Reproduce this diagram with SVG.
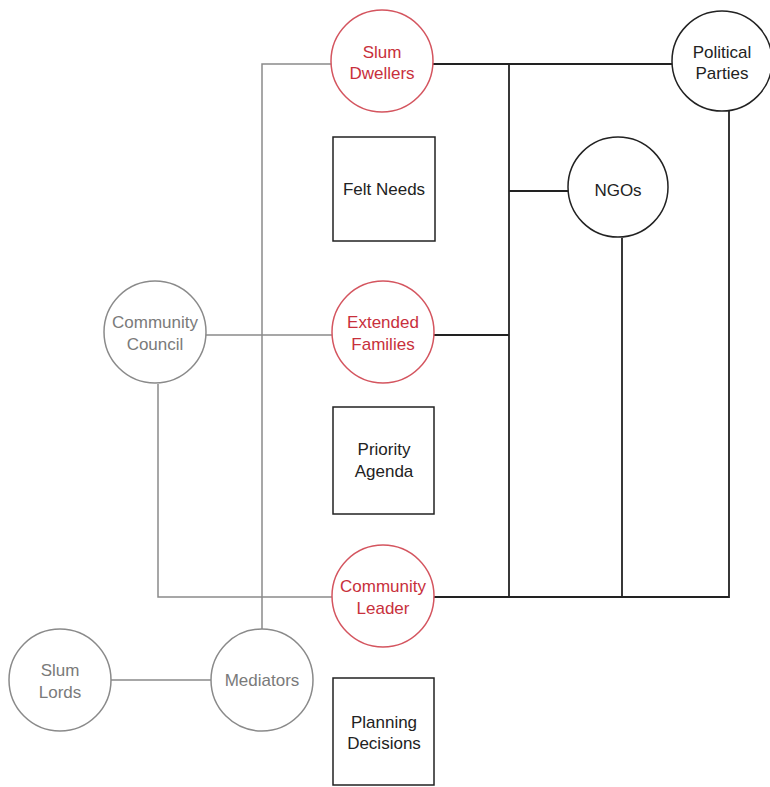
<svg xmlns="http://www.w3.org/2000/svg" width="770" height="787" viewBox="0 0 770 787">
<style>
text{font-family:"Liberation Sans",Arial,sans-serif;font-size:17px;text-anchor:middle}
.red circle{fill:#fff;stroke:#d4555f;stroke-width:1.5}
.red text{fill:#c8303c}
.gray circle{fill:#fff;stroke:#8a8a8a;stroke-width:1.5}
.gray text{fill:#7a7a7a}
.blk circle,.box rect{fill:#fff;stroke:#222;stroke-width:1.5}
.blk text,.box text{fill:#222}
.lg{stroke:#8a8a8a;stroke-width:1.5;fill:none}
.lb{stroke:#222;stroke-width:1.8;fill:none}
</style>
<rect width="770" height="787" fill="#fff"/>
<g id="connectors">
<polyline class="lg" points="332,64 262,64 262,629"/>
<line class="lg" x1="205" y1="335" x2="332" y2="335"/>
<polyline class="lg" points="158,384 158,597 332,597"/>
<line class="lg" x1="110" y1="680" x2="211" y2="680"/>
<line class="lb" x1="433" y1="64" x2="672" y2="64"/>
<line class="lb" x1="509" y1="64" x2="509" y2="597"/>
<line class="lb" x1="509" y1="191" x2="569" y2="191"/>
<line class="lb" x1="433" y1="335" x2="509" y2="335"/>
<polyline class="lb" points="433,597 729,597 729,111"/>
<line class="lb" x1="622" y1="238" x2="622" y2="597" stroke="#555"/>
</g>
<g id="slum-dwellers" class="red"><circle cx="382" cy="61" r="51"/><text x="382" y="58">Slum</text><text x="382" y="79">Dwellers</text></g>
<g id="political-parties" class="blk"><circle cx="722" cy="61" r="50"/><text x="722" y="58">Political</text><text x="722" y="79">Parties</text></g>
<g id="felt-needs" class="box"><rect x="333" y="137" width="102" height="104"/><text x="384" y="195">Felt Needs</text></g>
<g id="ngos" class="blk"><circle cx="618" cy="187" r="50"/><text x="618" y="196">NGOs</text></g>
<g id="community-council" class="gray"><circle cx="155" cy="332" r="51"/><text x="155" y="328">Community</text><text x="155" y="350">Council</text></g>
<g id="extended-families" class="red"><circle cx="383" cy="332" r="51"/><text x="383" y="328">Extended</text><text x="383" y="350">Families</text></g>
<g id="priority-agenda" class="box"><rect x="333" y="407" width="101" height="107"/><text x="384" y="455">Priority</text><text x="384" y="477">Agenda</text></g>
<g id="community-leader" class="red"><circle cx="383" cy="596" r="51"/><text x="383" y="592">Community</text><text x="383" y="614">Leader</text></g>
<g id="slum-lords" class="gray"><circle cx="60" cy="680" r="51"/><text x="60" y="676">Slum</text><text x="60" y="698">Lords</text></g>
<g id="mediators" class="gray"><circle cx="262" cy="680" r="51"/><text x="262" y="686">Mediators</text></g>
<g id="planning-decisions" class="box"><rect x="333" y="678" width="101" height="107"/><text x="384" y="728">Planning</text><text x="384" y="749">Decisions</text></g>
</svg>
